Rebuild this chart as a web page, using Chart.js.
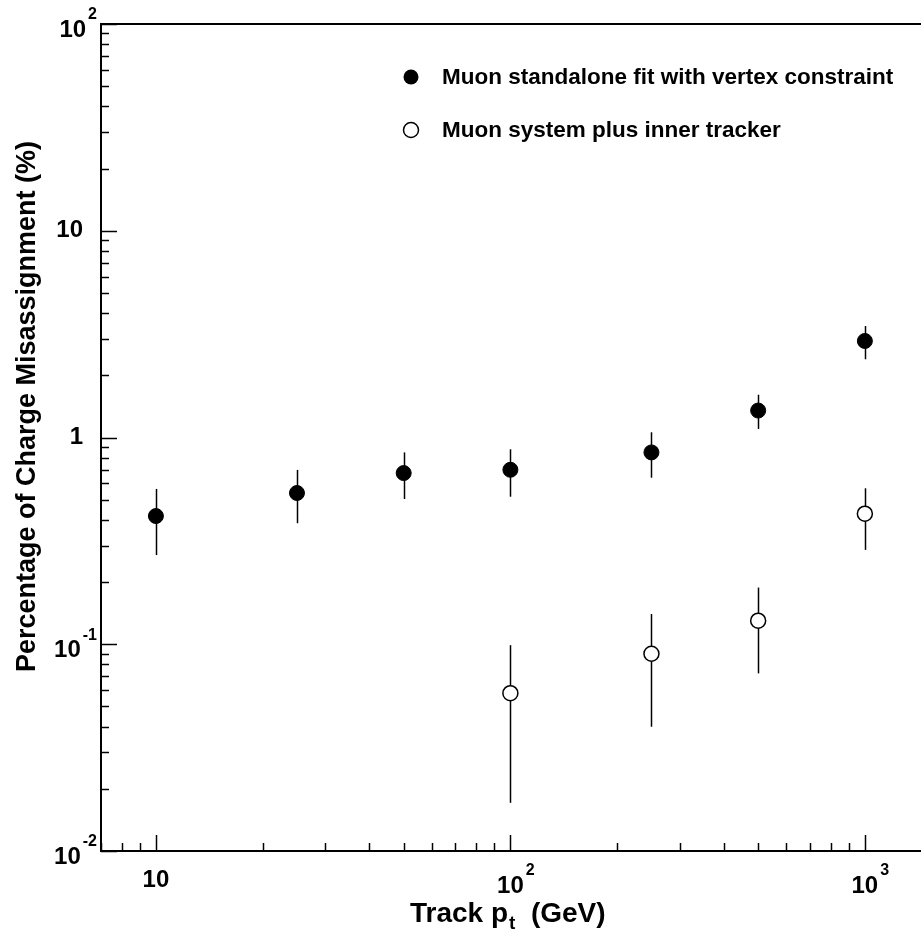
<!DOCTYPE html>
<html lang="en">
<head>
  <meta charset="UTF-8">
  <title>Charge Misassignment vs Track pt</title>
  <style>
    body { margin: 0; background: #fff; }
    canvas { display: block; }
  </style>
</head>
<body>
  <canvas id="misChart" width="921" height="934"></canvas>

  <script src="https://cdn.jsdelivr.net/npm/chart.js"></script>
  <script>
    // Muon standalone fit with vertex constraint (filled)
    const ptStandalone = [10, 25, 50, 100, 250, 500, 1000];
    const misStandalone = [0.417, 0.539, 0.673, 0.698, 0.847, 1.35, 2.93];
    const hiStandalone = [0.564, 0.697, 0.847, 0.877, 1.06, 1.61, 3.46];
    const loStandalone = [0.270, 0.385, 0.504, 0.517, 0.639, 1.10, 2.39];

    // Muon system plus inner tracker (open)
    const ptCombined = [100, 250, 500, 1000];
    const misCombined = [0.058, 0.090, 0.130, 0.428];
    const hiCombined = [0.099, 0.140, 0.188, 0.568];
    const loCombined = [0.0171, 0.0399, 0.0723, 0.286];

    const legendLabels = ['Muon standalone fit with vertex constraint', 'Muon system plus inner tracker'];

    // tick labels: [base, exponent]
    const yTickValues = [0.01, 0.1, 1, 10, 100];
    const yTickLabels = [['10', '-2'], ['10', '-1'], ['1', ''], ['10', ''], ['10', '2']];
    const xTickValues = [10, 100, 1000];
    const xTickLabels = [['10', ''], ['10', '2'], ['10', '3']];

    const FONT = '"Liberation Sans", Arial, sans-serif';

    const toPoints = (xs, ys) => xs.map((x, i) => ({ x: x, y: ys[i] }));

    const errorBars = {
      id: 'errorBars',
      beforeDatasetsDraw(chart) {
        const { ctx, scales: { x, y } } = chart;
        const sets = [[ptStandalone, hiStandalone, loStandalone], [ptCombined, hiCombined, loCombined]];
        ctx.save();
        ctx.strokeStyle = '#000';
        ctx.lineWidth = 1.5;
        sets.forEach(([xs, hi, lo]) => {
          xs.forEach((v, i) => {
            const px = Math.round(x.getPixelForValue(v)) + 0.5;
            ctx.beginPath();
            ctx.moveTo(px, y.getPixelForValue(hi[i]));
            ctx.lineTo(px, y.getPixelForValue(lo[i]));
            ctx.stroke();
          });
        });
        ctx.restore();
      }
    };

    const drawSupLabel = (ctx, base, exp, x, y, align) => {
      ctx.font = 'bold 24px ' + FONT;
      const wb = ctx.measureText(base).width;
      ctx.font = 'bold 16px ' + FONT;
      const we = exp ? ctx.measureText(exp).width + 2 : 0;
      let left;
      if (align === 'right') left = x - wb - we;
      else left = x - wb / 2; // base centred on tick
      ctx.textAlign = 'left';
      ctx.textBaseline = 'middle';
      ctx.font = 'bold 24px ' + FONT;
      ctx.fillText(base, left, y + (exp ? 6 : 0));
      if (exp) {
        ctx.font = 'bold 16px ' + FONT;
        ctx.fillText(exp, left + wb + 2, y - 9);
      }
    };

    const frame = {
      id: 'frame',
      afterDraw(chart) {
        const { ctx, chartArea: a, scales: { x, y } } = chart;
        ctx.save();
        ctx.strokeStyle = '#000';
        ctx.fillStyle = '#000';

        // axis lines
        ctx.lineWidth = 2;
        ctx.beginPath();
        ctx.moveTo(a.right, a.top);
        ctx.lineTo(a.left, a.top);
        ctx.lineTo(a.left, a.bottom);
        ctx.lineTo(a.right, a.bottom);
        ctx.stroke();

        // y ticks (inward)
        ctx.lineWidth = 1.5;
        for (let d = -2; d <= 2; d++) {
          for (let k = 1; k <= 9; k++) {
            const v = k * Math.pow(10, d);
            if (v < y.min * 0.999 || v > y.max * 1.001) continue;
            const py = Math.round(y.getPixelForValue(v)) + 0.5;
            const len = k === 1 ? 16 : 8;
            ctx.beginPath();
            ctx.moveTo(a.left, py);
            ctx.lineTo(a.left + len, py);
            ctx.stroke();
          }
        }
        // x ticks (inward)
        for (let d = 0; d <= 3; d++) {
          for (let k = 1; k <= 9; k++) {
            const v = k * Math.pow(10, d);
            if (v < x.min || v > x.max) continue;
            const px = Math.round(x.getPixelForValue(v)) + 0.5;
            const len = k === 1 ? 16 : 8;
            ctx.beginPath();
            ctx.moveTo(px, a.bottom);
            ctx.lineTo(px, a.bottom - len);
            ctx.stroke();
          }
        }

        // tick labels
        yTickValues.forEach((v, i) => {
          const [b, e] = yTickLabels[i];
          drawSupLabel(ctx, b, e, e ? 97 : 83, y.getPixelForValue(v), 'right');
        });
        xTickValues.forEach((v, i) => {
          const [b, e] = xTickLabels[i];
          drawSupLabel(ctx, b, e, x.getPixelForValue(v), a.bottom + 29, 'center');
        });

        // x title: Track p_t  (GeV)
        ctx.textBaseline = 'alphabetic';
        ctx.textAlign = 'left';
        ctx.font = 'bold 28px ' + FONT;
        let tx = 410;
        const ty = 922;
        ctx.fillText('Track p', tx, ty);
        tx += ctx.measureText('Track p').width;
        ctx.font = 'bold 19px ' + FONT;
        ctx.fillText('t', tx + 1, ty + 7);
        tx += ctx.measureText('t').width + 1;
        ctx.font = 'bold 28px ' + FONT;
        ctx.fillText('  (GeV)', tx, ty);

        // y title
        ctx.save();
        ctx.translate(35, (a.top + a.bottom) / 2 - 31);
        ctx.rotate(-Math.PI / 2);
        ctx.textAlign = 'center';
        ctx.font = 'bold 27px ' + FONT;
        ctx.fillText('Percentage of Charge Misassignment (%)', 0, 0);
        ctx.restore();

        // legend
        const lx = 411, ly = [77, 130];
        ctx.font = 'bold 22.5px ' + FONT;
        ctx.textBaseline = 'middle';
        legendLabels.forEach((t, i) => {
          ctx.beginPath();
          ctx.arc(lx, ly[i], 7.5, 0, Math.PI * 2);
          if (i === 0) {
            ctx.fill();
          } else {
            ctx.fillStyle = '#fff';
            ctx.fill();
            ctx.fillStyle = '#000';
            ctx.lineWidth = 1.5;
            ctx.stroke();
          }
          ctx.fillText(t, 442, ly[i] + 1);
        });

        ctx.restore();
      }
    };

    new Chart(document.getElementById('misChart'), {
      type: 'scatter',
      data: {
        datasets: [
          {
            label: legendLabels[0],
            data: toPoints(ptStandalone, misStandalone),
            pointRadius: 7.5,
            pointBackgroundColor: '#000',
            pointBorderColor: '#000',
            pointBorderWidth: 1
          },
          {
            label: legendLabels[1],
            data: toPoints(ptCombined, misCombined),
            pointRadius: 7.5,
            pointBackgroundColor: '#fff',
            pointBorderColor: '#000',
            pointBorderWidth: 1.5
          }
        ]
      },
      options: {
        responsive: false,
        animation: false,
        layout: { autoPadding: false, padding: { left: 101, top: 24, right: 0, bottom: 83 } },
        scales: {
          x: { type: 'logarithmic', min: 7, max: 1440, display: false },
          y: { type: 'logarithmic', min: 0.01, max: 100, display: false }
        },
        plugins: {
          legend: { display: false },
          tooltip: { enabled: false }
        }
      },
      plugins: [errorBars, frame]
    });
  </script>
</body>
</html>
